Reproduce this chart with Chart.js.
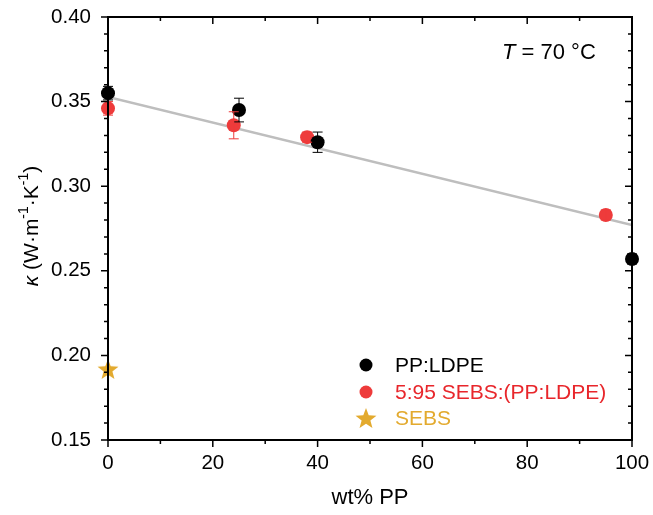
<!DOCTYPE html>
<html>
<head>
<meta charset="utf-8">
<script src="https://cdn.jsdelivr.net/npm/chart.js@4"></script>
<style>
  html, body { margin: 0; padding: 0; background: #fff; }
  #wrap { width: 653px; height: 515px; position: relative; }
</style>
</head>
<body>
<div id="wrap"><canvas id="chart" width="653" height="515"></canvas></div>
<script>
// ── data ──
const ppLdpeX   = [0, 25, 40, 100];
const ppLdpeY   = [0.355, 0.345, 0.326, 0.257];
const ppLdpeErr = [0.004, 0.007, 0.006, 0.003];

const sebsBlendX   = [0, 24, 38, 95];
const sebsBlendY   = [0.346, 0.336, 0.329, 0.283];
const sebsBlendErr = [0.004, 0.008, 0.003, 0.003];

const sebsX = [0];
const sebsY = [0.192];

const fitX = [0, 100];
const fitY = [0.3527, 0.277];

const xMajorTicks = [0, 20, 40, 60, 80, 100];
const xMinorTicks = [10, 30, 50, 70, 90];
const yMajorTicks = [0.15, 0.20, 0.25, 0.30, 0.35, 0.40];
const yMinorTicks = [0.16, 0.17, 0.18, 0.19, 0.21, 0.22, 0.23, 0.24, 0.26, 0.27, 0.28, 0.29,
                     0.31, 0.32, 0.33, 0.34, 0.36, 0.37, 0.38, 0.39];

const BLACK = '#000000';
const RED   = '#EE3B3B';
const RED_TXT = '#E8262B';
const GOLD  = '#E3AA2E';
const FONT  = '"Liberation Sans", Arial, sans-serif';

const pts = (xs, ys) => xs.map((x, i) => ({ x, y: ys[i] }));

// filled star used as point style
function makeStar(size, color) {
  const c = document.createElement('canvas');
  c.width = size; c.height = size;
  const g = c.getContext('2d');
  const cx = size / 2, cy = size / 2 + size * 0.05, R = size / 2, r = R * 0.42;
  g.beginPath();
  for (let i = 0; i < 10; i++) {
    const a = -Math.PI / 2 + i * Math.PI / 5;
    const rad = i % 2 === 0 ? R : r;
    g.lineTo(cx + rad * Math.cos(a), cy + rad * Math.sin(a));
  }
  g.closePath();
  g.fillStyle = color;
  g.fill();
  return c;
}
const starImg = makeStar(22, GOLD);

/* ── error bars ── */
const errorBars = {
  id: 'errorBars',
  afterDatasetsDraw(chart) {
    const ctx = chart.ctx;
    const xs = chart.scales.x, ys = chart.scales.y;
    chart.data.datasets.forEach(ds => {
      if (!ds.errors) return;
      ctx.save();
      ctx.strokeStyle = ds.errColor;
      ctx.lineWidth = 1;
      ds.data.forEach((p, i) => {
        const px = xs.getPixelForValue(p.x);
        const top = ys.getPixelForValue(p.y + ds.errors[i]);
        const bot = ys.getPixelForValue(p.y - ds.errors[i]);
        ctx.beginPath();
        ctx.moveTo(px, top); ctx.lineTo(px, bot);
        ctx.moveTo(px - 5, top); ctx.lineTo(px + 5, top);
        ctx.moveTo(px - 5, bot); ctx.lineTo(px + 5, bot);
        ctx.stroke();
      });
      ctx.restore();
    });
  }
};

/* ── frame, ticks, y title, annotation, legend ── */
const decorations = {
  id: 'decorations',
  afterDraw(chart) {
    const ctx = chart.ctx;
    const a = chart.chartArea;
    const xs = chart.scales.x, ys = chart.scales.y;
    ctx.save();
    ctx.strokeStyle = '#000';
    ctx.lineWidth = 2;
    ctx.strokeRect(a.left, a.top, a.right - a.left, a.bottom - a.top);

    ctx.lineWidth = 1.5;
    ctx.beginPath();
    const tickX = (vals, len) => vals.forEach(v => {
      const px = xs.getPixelForValue(v);
      ctx.moveTo(px, a.bottom); ctx.lineTo(px, a.bottom + len);
      ctx.moveTo(px, a.top);    ctx.lineTo(px, a.top + len);
    });
    const tickY = (vals, len) => vals.forEach(v => {
      const py = ys.getPixelForValue(v);
      ctx.moveTo(a.left, py);  ctx.lineTo(a.left - len, py);
      ctx.moveTo(a.right, py); ctx.lineTo(a.right - len, py);
    });
    tickX(xMajorTicks, 7); tickX(xMinorTicks, 4);
    tickY(yMajorTicks, 7); tickY(yMinorTicks, 4);
    ctx.stroke();

    // y axis title: κ (W·m⁻¹·K⁻¹)
    ctx.translate(32, 226);
    ctx.rotate(-Math.PI / 2);
    ctx.fillStyle = '#000';
    ctx.textBaseline = 'middle';
    const parts = [
      { t: 'κ', f: 'italic 21px ' + FONT, dy: 0 },
      { t: ' (W·m', f: '21px ' + FONT, dy: 0 },
      { t: '-1', f: '14px ' + FONT, dy: -8 },
      { t: '·K', f: '21px ' + FONT, dy: 0 },
      { t: '-1', f: '14px ' + FONT, dy: -8 },
      { t: ')', f: '21px ' + FONT, dy: 0 }
    ];
    let total = 0;
    parts.forEach(p => { ctx.font = p.f; total += ctx.measureText(p.t).width; });
    let cx = -total / 2;
    parts.forEach(p => {
      ctx.font = p.f;
      ctx.fillText(p.t, cx, p.dy);
      cx += ctx.measureText(p.t).width;
    });
    ctx.setTransform(1, 0, 0, 1, 0, 0);

    // annotation T = 70 °C
    ctx.textBaseline = 'alphabetic';
    ctx.font = 'italic 22px ' + FONT;
    let ax = 502;
    ctx.fillText('T', ax, 59);
    ax += ctx.measureText('T').width;
    ctx.font = '22px ' + FONT;
    ctx.fillText(' = 70 °C', ax, 59);

    // legend
    const lx = 366, ly = [365, 392, 418];
    ctx.textBaseline = 'middle';
    ctx.font = '21px ' + FONT;
    ctx.fillStyle = BLACK;
    ctx.beginPath(); ctx.arc(lx, ly[0], 6.5, 0, Math.PI * 2); ctx.fill();
    ctx.fillText('PP:LDPE', 395, ly[0] + 1);
    ctx.fillStyle = RED;
    ctx.beginPath(); ctx.arc(lx, ly[1], 6.5, 0, Math.PI * 2); ctx.fill();
    ctx.fillStyle = RED_TXT;
    ctx.fillText('5:95 SEBS:(PP:LDPE)', 395, ly[1] + 1);
    ctx.drawImage(starImg, lx - 11, ly[2] - 11);
    ctx.fillStyle = GOLD;
    ctx.fillText('SEBS', 395, ly[2] + 1);
    ctx.restore();
  }
};

new Chart(document.getElementById('chart'), {
  type: 'scatter',
  data: {
    datasets: [
      {
        label: 'PP:LDPE',
        data: pts(ppLdpeX, ppLdpeY),
        errors: ppLdpeErr, errColor: '#000',
        backgroundColor: BLACK, borderWidth: 0,
        pointRadius: 7, pointHoverRadius: 7, order: 1, clip: false
      },
      {
        label: '5:95 SEBS:(PP:LDPE)',
        data: pts(sebsBlendX, sebsBlendY),
        errors: sebsBlendErr, errColor: RED,
        backgroundColor: RED, borderWidth: 0,
        pointRadius: 7, pointHoverRadius: 7, order: 2, clip: false
      },
      {
        label: 'SEBS',
        data: pts(sebsX, sebsY),
        pointStyle: starImg, order: 0, clip: false
      },
      {
        type: 'line',
        label: 'fit',
        data: pts(fitX, fitY),
        borderColor: '#BEBEBE', borderWidth: 2.5,
        pointRadius: 0, fill: false, order: 3
      }
    ]
  },
  options: {
    responsive: false,
    animation: false,
    layout: { padding: { top: 17, right: 21, left: 0, bottom: 0 } },
    plugins: { legend: { display: false }, tooltip: { enabled: false } },
    scales: {
      x: {
        type: 'linear', min: 0, max: 100,
        grid: { display: false, drawTicks: false },
        border: { display: false },
        afterBuildTicks: s => { s.ticks = xMajorTicks.map(v => ({ value: v })); },
        afterFit: s => { s.height = 75; s.paddingLeft = 0; s.paddingRight = 0; },
        ticks: { color: '#000', font: { family: FONT, size: 20.5 }, padding: 11, maxRotation: 0 },
        title: { display: true, text: 'wt% PP', color: '#000', font: { family: FONT, size: 22 }, padding: { top: 12 } }
      },
      y: {
        type: 'linear', min: 0.15, max: 0.40,
        grid: { display: false, drawTicks: false },
        border: { display: false },
        afterBuildTicks: s => { s.ticks = yMajorTicks.map(v => ({ value: v })); },
        afterFit: s => { s.width = 108; s.paddingTop = 0; s.paddingBottom = 0; },
        ticks: { color: '#000', font: { family: FONT, size: 20.5 }, padding: 17,
                 callback: v => Number(v).toFixed(2) }
      }
    }
  },
  plugins: [errorBars, decorations]
});
</script>
</body>
</html>
